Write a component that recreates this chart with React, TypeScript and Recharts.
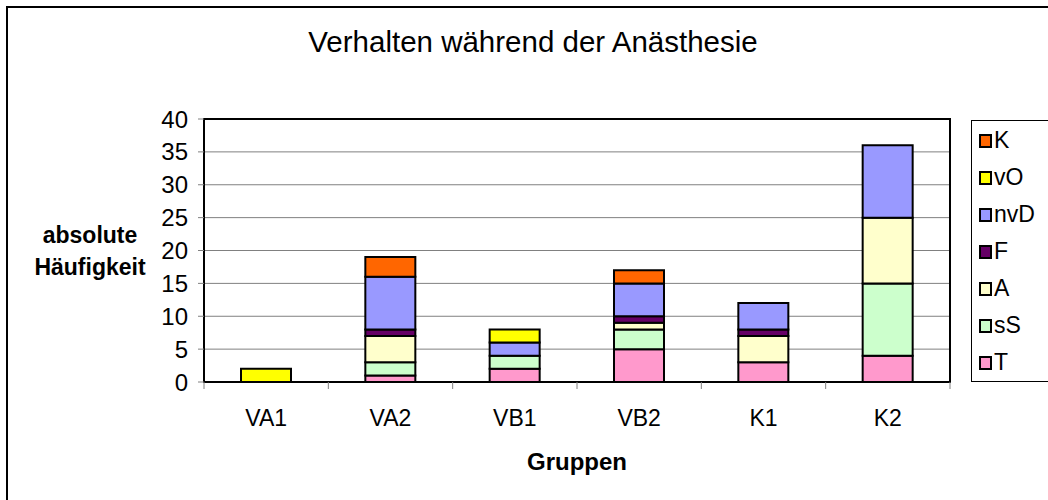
import React from 'react';
import { BarChart, Bar, XAxis, YAxis, CartesianGrid, ReferenceArea } from 'recharts';

const groups = ['VA1', 'VA2', 'VB1', 'VB2', 'K1', 'K2'];

// stacked bottom -> top
const seriesT = [0, 1, 2, 5, 3, 4];
const seriesSS = [0, 2, 2, 3, 0, 11];
const seriesA = [0, 4, 0, 1, 4, 10];
const seriesF = [0, 1, 0, 1, 1, 0];
const seriesNvD = [0, 8, 2, 5, 4, 11];
const seriesVO = [2, 0, 2, 0, 0, 0];
const seriesK = [0, 3, 0, 2, 0, 0];

const yTicks = [0, 5, 10, 15, 20, 25, 30, 35, 40];

const series = [
  { key: 'T', values: seriesT, color: '#FF99CC' },
  { key: 'sS', values: seriesSS, color: '#CCFFCC' },
  { key: 'A', values: seriesA, color: '#FFFFCC' },
  { key: 'F', values: seriesF, color: '#660066' },
  { key: 'nvD', values: seriesNvD, color: '#9999FF' },
  { key: 'vO', values: seriesVO, color: '#FFFF00' },
  { key: 'K', values: seriesK, color: '#FF6600' },
];

const data = groups.map((g, i) => {
  const row: Record<string, any> = { group: g };
  series.forEach((s) => {
    row[s.key] = s.values[i];
  });
  return row;
});

const W = 1048;
const H = 500;
const PLOT_LEFT = 204;
const PLOT_RIGHT = 950;
const PLOT_TOP = 119;
const PLOT_BOTTOM = 382;
const Y_AXIS_W = 60;
const X_AXIS_H = 30;
const BAND = (PLOT_RIGHT - PLOT_LEFT) / groups.length;
const FONT = '"Liberation Sans", Arial, sans-serif';

const GroupTick = ({ x, y, payload, index }: any) => (
  <g>
    <line x1={x - BAND / 2} x2={x - BAND / 2} y1={y} y2={y + 7} stroke="#808080" />
    {index === groups.length - 1 && (
      <line x1={x + BAND / 2} x2={x + BAND / 2} y1={y} y2={y + 7} stroke="#808080" />
    )}
    <text x={x} y={y + 44} textAnchor="middle" fontSize={23} fill="#000" fontFamily={FONT}>
      {payload.value}
    </text>
  </g>
);

export default function App() {
  const legendItems = [...series].reverse();

  return (
    <div
      style={{
        position: 'absolute',
        left: 0,
        top: 0,
        width: W,
        height: H,
        overflow: 'hidden',
        background: '#fff',
        fontFamily: FONT,
      }}
    >
      <div
        style={{
          position: 'absolute',
          left: 6,
          top: 6,
          width: 1100,
          height: 600,
          border: '2px solid #000',
        }}
      />
      <div style={{ position: 'absolute', left: 0, top: 0 }}>
        <BarChart
          width={W}
          height={H}
          data={data}
          barSize={50}
          margin={{
            top: PLOT_TOP,
            right: W - PLOT_RIGHT,
            left: PLOT_LEFT - Y_AXIS_W,
            bottom: H - PLOT_BOTTOM - X_AXIS_H,
          }}
        >
          <CartesianGrid vertical={false} stroke="#808080" strokeWidth={1} />
          <XAxis
            dataKey="group"
            height={X_AXIS_H}
            axisLine={{ stroke: '#000', strokeWidth: 2 }}
            tickLine={false}
            tickSize={0}
            tickMargin={0}
            interval={0}
            tick={<GroupTick />}
          />
          <YAxis
            width={Y_AXIS_W}
            domain={[0, 40]}
            ticks={yTicks}
            interval={0}
            axisLine={{ stroke: '#000', strokeWidth: 2 }}
            tickLine={{ stroke: '#808080' }}
            tickSize={6}
            tickMargin={10}
            tick={{ fill: '#000', fontSize: 24, fontFamily: FONT }}
          />
          {series.map((s) => (
            <Bar
              key={s.key}
              dataKey={s.key}
              stackId="a"
              fill={s.color}
              stroke="#000"
              strokeWidth={2}
              isAnimationActive={false}
            />
          ))}
          <ReferenceArea y1={0} y2={40} fill="none" fillOpacity={0} stroke="#000" strokeWidth={2} />
        </BarChart>
      </div>
      <svg
        width={W}
        height={H}
        style={{ position: 'absolute', left: 0, top: 0, pointerEvents: 'none' }}
        fontFamily={FONT}
      >
        <text x={533} y={52} textAnchor="middle" fontSize={29.5} fill="#000">
          Verhalten während der Anästhesie
        </text>
        <text x={90} y={243} textAnchor="middle" fontSize={23} fontWeight="bold" fill="#000">
          absolute
        </text>
        <text x={90} y={275} textAnchor="middle" fontSize={23} fontWeight="bold" fill="#000">
          Häufigkeit
        </text>
        <text x={577} y={470} textAnchor="middle" fontSize={24} fontWeight="bold" fill="#000">
          Gruppen
        </text>
        <rect x={971.5} y={120.5} width={100} height={261} fill="#fff" stroke="#000" strokeWidth={1} />
        {legendItems.map((s, i) => {
          const base = 148 + i * 37;
          return (
            <g key={s.key}>
              <rect x={980} y={base - 13} width={11} height={12} fill={s.color} stroke="#000" strokeWidth={2} />
              <text x={994} y={base} fontSize={23} fill="#000">
                {s.key}
              </text>
            </g>
          );
        })}
      </svg>
    </div>
  );
}
